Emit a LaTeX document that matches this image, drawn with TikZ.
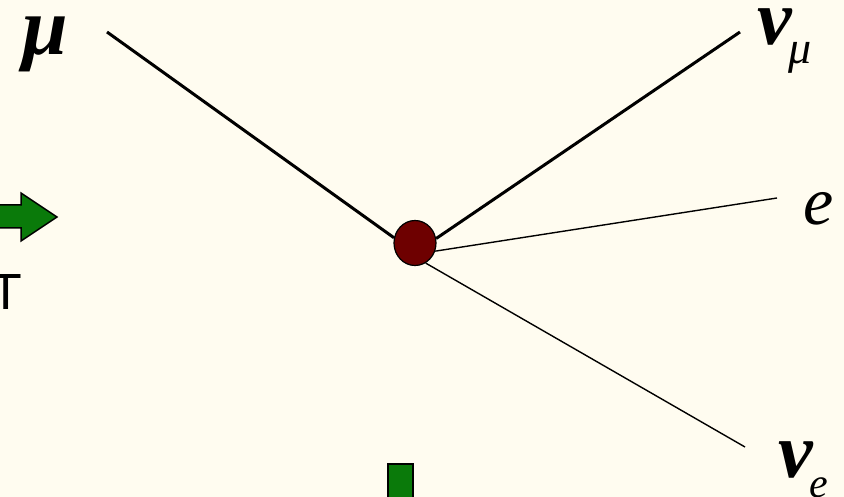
\documentclass[tikz,border=0pt]{standalone}
\usepackage{fontspec}
\usetikzlibrary{shapes.geometric}
\setmainfont{Liberation Serif}
\newfontfamily\sansf{DejaVu Sans}
\definecolor{bgcream}{RGB}{255,252,240}
\definecolor{vtxred}{RGB}{110,0,0}
\definecolor{arrgreen}{RGB}{10,122,10}
\begin{document}
\begin{tikzpicture}[x=1pt,y=-1pt,
  lbl/.style={anchor=base west,inner sep=0pt},
  thickline/.style={line width=3pt,black},
  thinline/.style={line width=1.4pt,black},
  greenshape/.style={fill=arrgreen,draw=black,line join=miter}]
\fill[bgcream] (0,0) rectangle (844,497);
\useasboundingbox (0,0) rectangle (844,497);
\node[ellipse,draw=black,line width=1.2pt,fill=vtxred,minimum width=42pt,minimum height=45pt,inner sep=0pt] (v) at (415,243) {};
\coordinate (muend) at (107,32);
\coordinate (numuend) at (740,32);
\coordinate (eend) at (777,198);
\coordinate (nueend) at (745,447);
\draw[thickline] (muend) -- (v.166);
\draw[thickline] (numuend) -- (v.12);
\draw[thinline] (eend) -- (v.-22);
\draw[thinline] (nueend) -- (v.-62);
\node[lbl,font=\fontsize{82}{82}\selectfont\bfseries\itshape] (mu) at (22,55) {μ};
\node[lbl,font=\fontsize{78}{78}\selectfont\bfseries\itshape] (numu) at (757,45) {ν};
\node[lbl,font=\fontsize{46}{46}\selectfont\itshape] (numusub) at (788,64) {μ};
\node[lbl,font=\fontsize{68}{68}\selectfont\itshape] (e) at (803,225) {e};
\node[lbl,font=\fontsize{78}{78}\selectfont\bfseries\itshape] (nue) at (778,477) {ν};
\node[lbl,font=\fontsize{42}{42}\selectfont\itshape] (nuesub) at (809,497) {e};
\node[anchor=base,inner sep=0pt,font=\fontsize{48}{48}\selectfont\sansf] (tlbl) at (6,310) {T};
\draw[greenshape,line width=1.5pt] (-5,205) -- (21,205) -- (21,193) -- (57,217) -- (21,241) -- (21,228) -- (-5,228) -- cycle;
\draw[greenshape,line width=2.5pt] (388,464) rectangle (413,510);
\end{tikzpicture}
\end{document}
